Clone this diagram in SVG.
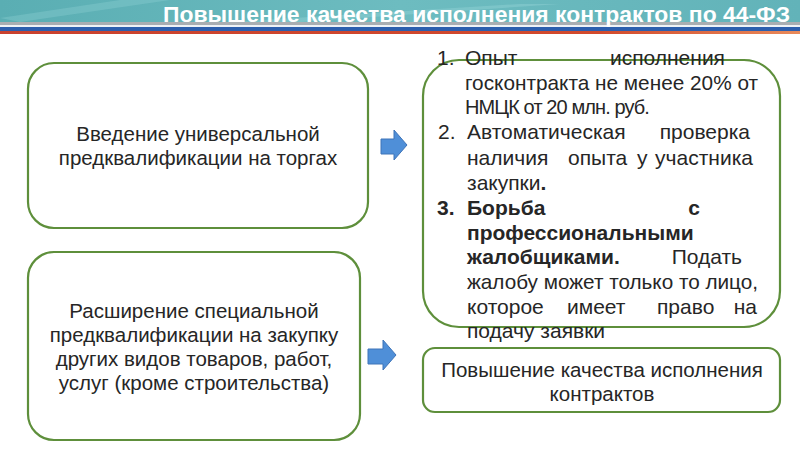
<svg xmlns="http://www.w3.org/2000/svg" width="800" height="450" viewBox="0 0 800 450">
<defs>
<linearGradient id="ban" x1="0" y1="0" x2="1" y2="0">
<stop offset="0" stop-color="#5aaeb3"/>
<stop offset="0.5" stop-color="#6dbcc0"/>
<stop offset="1" stop-color="#62b3b9"/>
</linearGradient>
<linearGradient id="red" x1="0" y1="0" x2="1" y2="0">
<stop offset="0" stop-color="#c9412f"/>
<stop offset="0.75" stop-color="#d24a2c"/>
<stop offset="1" stop-color="#e98a5a"/>
</linearGradient>
<style>
.box{fill:#fff;stroke:#5e8f3b;stroke-width:2.2}
.t{font-family:"Liberation Sans",Arial,sans-serif;font-size:20.5px;fill:#262626}
.l{font-family:"Liberation Sans",Arial,sans-serif;font-size:21px;fill:#262626}
.c{text-anchor:middle}
.e{text-anchor:end}
.b{font-weight:bold}
.arr{fill:#4f8fd8;stroke:#3f74b8;stroke-width:1}
</style>
</defs>
<rect width="800" height="450" fill="#fff"/>
<g id="header">
<rect x="0" y="0" width="800" height="22" fill="url(#ban)"/>
<path d="M0 18 L120 0 L170 0 L20 22 Z" fill="#8fd0d3" opacity="0.35"/>
<path d="M230 22 L520 4 L560 4 L300 22 Z" fill="#a6dde0" opacity="0.3"/>
<rect x="0" y="22" width="800" height="3" fill="#a9aeb2"/>
<rect x="0" y="25" width="800" height="2" fill="#eef2f6"/>
<rect x="0" y="27" width="800" height="4" fill="#2c5fae"/>
<rect x="0" y="31" width="800" height="3" fill="url(#red)"/>
<text x="163" y="21.5" textLength="627" lengthAdjust="spacingAndGlyphs" style="font-family:'Liberation Sans',Arial,sans-serif;font-size:22px;font-weight:bold;fill:#fff">Повышение качества исполнения контрактов по 44-ФЗ</text>
</g>
<g id="connectors">
<path class="arr" d="M381 139 L394 139 L394 130 L407 145 L394 160 L394 154 L381 154 Z"/>
<path class="arr" d="M368 349 L383 349 L383 340 L396 355 L383 370 L383 364 L368 364 Z"/>
</g>
<g id="node1">
<rect class="box" x="28" y="63" width="340" height="165" rx="26"/>
<text class="t c" x="198" y="141">Введение универсальной</text>
<text class="t c" x="198" y="165">предквалификации на торгах</text>
</g>
<g id="node2">
<rect class="box" x="28" y="252" width="332" height="188" rx="26"/>
<text class="t c" x="194" y="318">Расширение специальной</text>
<text class="t c" x="194" y="342">предквалификации на закупку</text>
<text class="t c" x="194" y="366">других видов товаров, работ,</text>
<text class="t c" x="194" y="390">услуг (кроме строительства)</text>
</g>
<g id="node3">
<rect class="box" x="423" y="60" width="357" height="267" rx="36"/>
<text class="l" x="437" y="65">1.</text>
<text class="l" x="465" y="65">Опыт</text>
<text class="l e" x="725" y="65">исполнения</text>
<text class="l" x="465" y="90" textLength="293" lengthAdjust="spacingAndGlyphs">госконтракта не менее 20% от</text>
<text class="l" x="465" y="114" style="font-size:20px;letter-spacing:-0.9px">НМЦК от 20 млн. руб.</text>
<text class="l" x="438" y="139">2.</text>
<text class="l" x="467" y="139">Автоматическая</text>
<text class="l e" x="750" y="139">проверка</text>
<text class="l" x="467" y="165">наличия</text>
<text class="l" x="568" y="165">опыта</text>
<text class="l" x="637" y="165">у</text>
<text class="l e" x="753" y="165">участника</text>
<text class="l" x="467" y="190">закупки<tspan class="b">.</tspan></text>
<text class="l b" x="437" y="215">3.</text>
<text class="l b" x="467" y="215">Борьба</text>
<text class="l b e" x="700" y="215">с</text>
<text class="l b" x="467" y="240">профессиональными</text>
<text class="l b" x="467" y="264">жалобщиками.</text>
<text class="l e" x="742" y="264">Подать</text>
<text class="l" x="467" y="289" textLength="291" lengthAdjust="spacingAndGlyphs">жалобу может только то лицо,</text>
<text class="l" x="467" y="314">которое</text>
<text class="l" x="567" y="314">имеет</text>
<text class="l" x="657" y="314">право</text>
<text class="l e" x="757" y="314">на</text>
<text class="l" x="467" y="338">подачу заявки</text>
</g>
<g id="node4">
<rect class="box" x="423" y="348" width="357" height="64" rx="12"/>
<text class="t c" x="602" y="377">Повышение качества исполнения</text>
<text class="t c" x="602" y="401">контрактов</text>
</g>
</svg>
